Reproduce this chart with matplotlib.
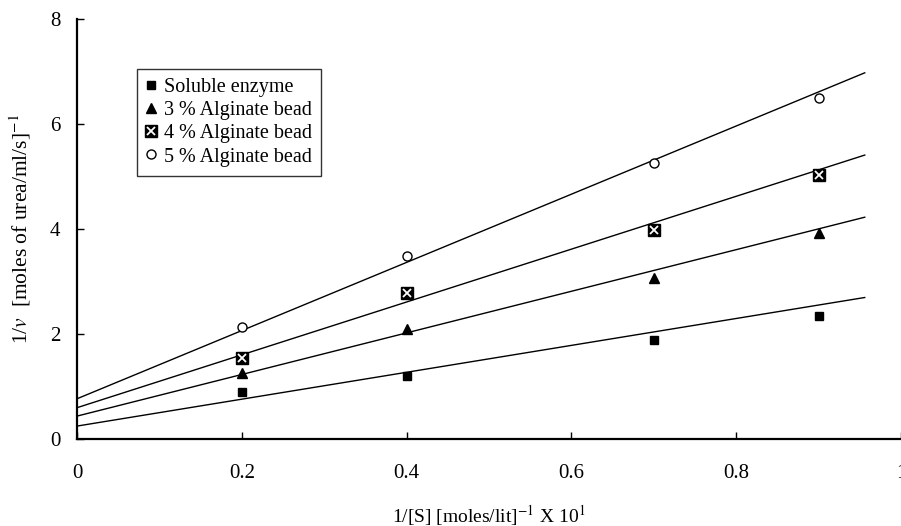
import numpy as np
import matplotlib
matplotlib.use("Agg")
import matplotlib.pyplot as plt
from matplotlib.lines import Line2D

plt.rcParams['font.family'] = ['Liberation Serif', 'DejaVu Serif']
plt.rcParams['mathtext.fontset'] = 'stix'

# substrate concentration (reciprocal) and measured 1/v
x_pts = [0.2, 0.4, 0.7, 0.9]
soluble = [0.90, 1.21, 1.89, 2.34]
alg3 = [1.26, 2.10, 3.07, 3.93]
alg4 = [1.54, 2.78, 3.99, 5.02]
alg5 = [2.13, 3.48, 5.26, 6.50]

# trend lines drawn on the chart: intercept and slope
intercepts = [0.25, 0.44, 0.60, 0.77]
slopes = [2.56, 3.96, 5.03, 6.49]
line_end = 0.956

labels = ['Soluble enzyme', '3 % Alginate bead', '4 % Alginate bead', '5 % Alginate bead']

fig = plt.figure(figsize=(9.01, 5.26), dpi=100)
ax = fig.add_axes([0.0855, 0.165, 0.9145, 0.799])

xl = np.array([0.0, line_end])
for b, m in zip(intercepts, slopes):
    ax.plot(xl, b + m * xl, color='black', lw=1.0, zorder=1)

ax.plot(x_pts, soluble, 's', color='black', ms=6, zorder=3)
ax.plot(x_pts, alg3, '^', color='black', ms=6.5, zorder=3)
ax.plot(x_pts, alg4, 's', color='black', ms=9, zorder=3)
ax.plot(x_pts, alg4, 'x', color='white', ms=5.5, mew=1.3, zorder=4)
ax.plot(x_pts, alg5, 'o', mfc='white', mec='black', mew=1.0, ms=6.5, zorder=3)

ax.set_xlim(0, 1)
ax.set_ylim(0, 8)
ax.set_xticks(np.arange(0, 1.01, 0.2))
ax.set_xticklabels(['0', '0.2', '0.4', '0.6', '0.8', '1'])
ax.set_yticks([0, 2, 4, 6, 8])
for s in ['top', 'right']:
    ax.spines[s].set_visible(False)
for s in ['left', 'bottom']:
    ax.spines[s].set_linewidth(1.6)
ax.tick_params(direction='in', length=5, width=1, labelsize=15)
ax.tick_params(axis='x', pad=18)
ax.tick_params(axis='y', pad=12)

ax.set_xlabel(r'1/[S] [moles/lit]$^{-1}$ X 10$^{1}$', fontsize=14, labelpad=14)
ax.set_ylabel(r'1/$\mathit{v}$  [moles of urea/ml/s]$^{-1}$', fontsize=15.5, labelpad=12)

handles = [
    Line2D([], [], ls='none', marker='s', color='black', ms=6),
    Line2D([], [], ls='none', marker='^', color='black', ms=6.5),
    (Line2D([], [], ls='none', marker='s', color='black', ms=9),
     Line2D([], [], ls='none', marker='x', color='white', ms=5.5, mew=1.3)),
    Line2D([], [], ls='none', marker='o', mfc='white', mec='black', ms=6.5),
]
leg = ax.legend(handles, labels, loc='upper left',
                bbox_to_anchor=(137 / 901, 1 - 69 / 526),
                bbox_transform=fig.transFigure, borderaxespad=0,
                fontsize=14.5, frameon=True, fancybox=False,
                handlelength=0.5, handletextpad=0.4, labelspacing=0.2,
                borderpad=0.45)
leg.get_frame().set_edgecolor('black')
leg.get_frame().set_linewidth(1.0)

fig.savefig('out.png', dpi=100)
